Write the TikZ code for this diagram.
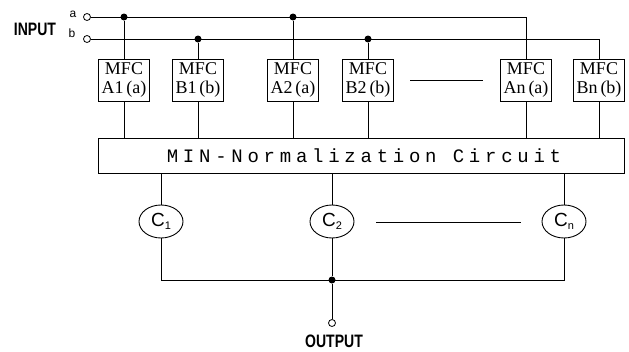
\documentclass[tikz,border=0pt]{standalone}
\usepackage{fontspec}
\usepackage{graphicx}
\usetikzlibrary{shapes.geometric}
\setmainfont{Liberation Serif}
\newfontfamily\iofont{Liberation Sans}
\newfontfamily\minfont[LetterSpace=25]{Liberation Mono}
\newcommand{\csub}[1]{\raisebox{-3pt}{\fontsize{11}{11}\selectfont #1}}
\begin{document}
\begin{tikzpicture}[x=1pt,y=-1pt,line width=0.9pt,
  term/.style={draw,circle,fill=white,inner sep=0,minimum size=7,line width=0.8pt},
  dot/.style={fill,circle,inner sep=0,minimum size=7},
  mfcbox/.style={draw,minimum width=51,minimum height=42,inner sep=0,align=center,
    font=\fontsize{18}{18.5}\selectfont},
  minbox/.style={draw,minimum width=526,minimum height=35,inner sep=0,
    font=\minfont\fontsize{19}{19}\selectfont},
  cnode/.style={draw,ellipse,minimum width=44,minimum height=33,inner sep=0,
    font=\iofont\fontsize{19}{19}\selectfont},
  iotext/.style={font=\iofont\bfseries\fontsize{18}{18}\selectfont,inner sep=0},
  ablbl/.style={font=\iofont\fontsize{12}{12}\selectfont,inner sep=0}]
\useasboundingbox (0,0) rectangle (629,351);

% input terminals
\node[term] (ta) at (87,17) {};
\node[term] (tb) at (87,39) {};
\node[ablbl] (la) at (73,14) {a};
\node[ablbl] (lb) at (72,33) {b};
\node[iotext] (inp) at (35,29) {\scalebox{0.78}[1]{INPUT}};

% MFC boxes
\node[mfcbox] (A1) at (124,80) {MFC\\A1\,(a)};
\node[mfcbox] (B1) at (198,80) {MFC\\B1\,(b)};
\node[mfcbox] (A2) at (293,80) {MFC\\A2\,(a)};
\node[mfcbox] (B2) at (368,80) {MFC\\B2\,(b)};
\node[mfcbox] (An) at (526,80) {MFC\\An\,(a)};
\node[mfcbox] (Bn) at (599,80) {MFC\\Bn\,(b)};
\coordinate (m1) at (410,80);
\coordinate (m2) at (483,80);
\draw (m1) -- (m2);

% input buses
\coordinate (ae) at (An.north |- ta);
\coordinate (be) at (Bn.north |- tb);
\draw (ta.east) -- (ae) -- (An.north);
\draw (tb.east) -- (be) -- (Bn.north);
\node[dot] (da1) at (A1.north |- ta) {};
\node[dot] (da2) at (A2.north |- ta) {};
\node[dot] (db1) at (B1.north |- tb) {};
\node[dot] (db2) at (B2.north |- tb) {};
\draw (da1) -- (A1.north);
\draw (da2) -- (A2.north);
\draw (db1) -- (B1.north);
\draw (db2) -- (B2.north);

% normalization circuit
\node[minbox] (min) at (361,155.5) {\hspace*{6pt}MIN-Normalization Circuit};
\foreach \n in {A1,B1,A2,B2,An,Bn}
  \draw (\n.south) -- (\n.south |- min.north);

% C nodes
\node[cnode] (C1) at (161,221.5) {C\csub{1}};
\node[cnode] (C2) at (332,221.5) {C\csub{2}};
\node[cnode] (Cn) at (564,221.5) {C\csub{n}};
\foreach \n in {C1,C2,Cn}
  \draw (\n.north |- min.south) -- (\n.north);
\coordinate (c1) at (376,222);
\coordinate (c2) at (521,222);
\draw (c1) -- (c2);

% output
\node[dot] (jd) at (332,280) {};
\draw (C1.south) -- (C1.south |- jd) -- (Cn.south |- jd) -- (Cn.south);
\draw (C2.south) -- (jd);
\node[term] (to) at (332,323) {};
\draw (jd) -- (to.north);
\node[iotext] (outp) at (334,341) {\scalebox{0.78}[1]{OUTPUT}};
\end{tikzpicture}
\end{document}
